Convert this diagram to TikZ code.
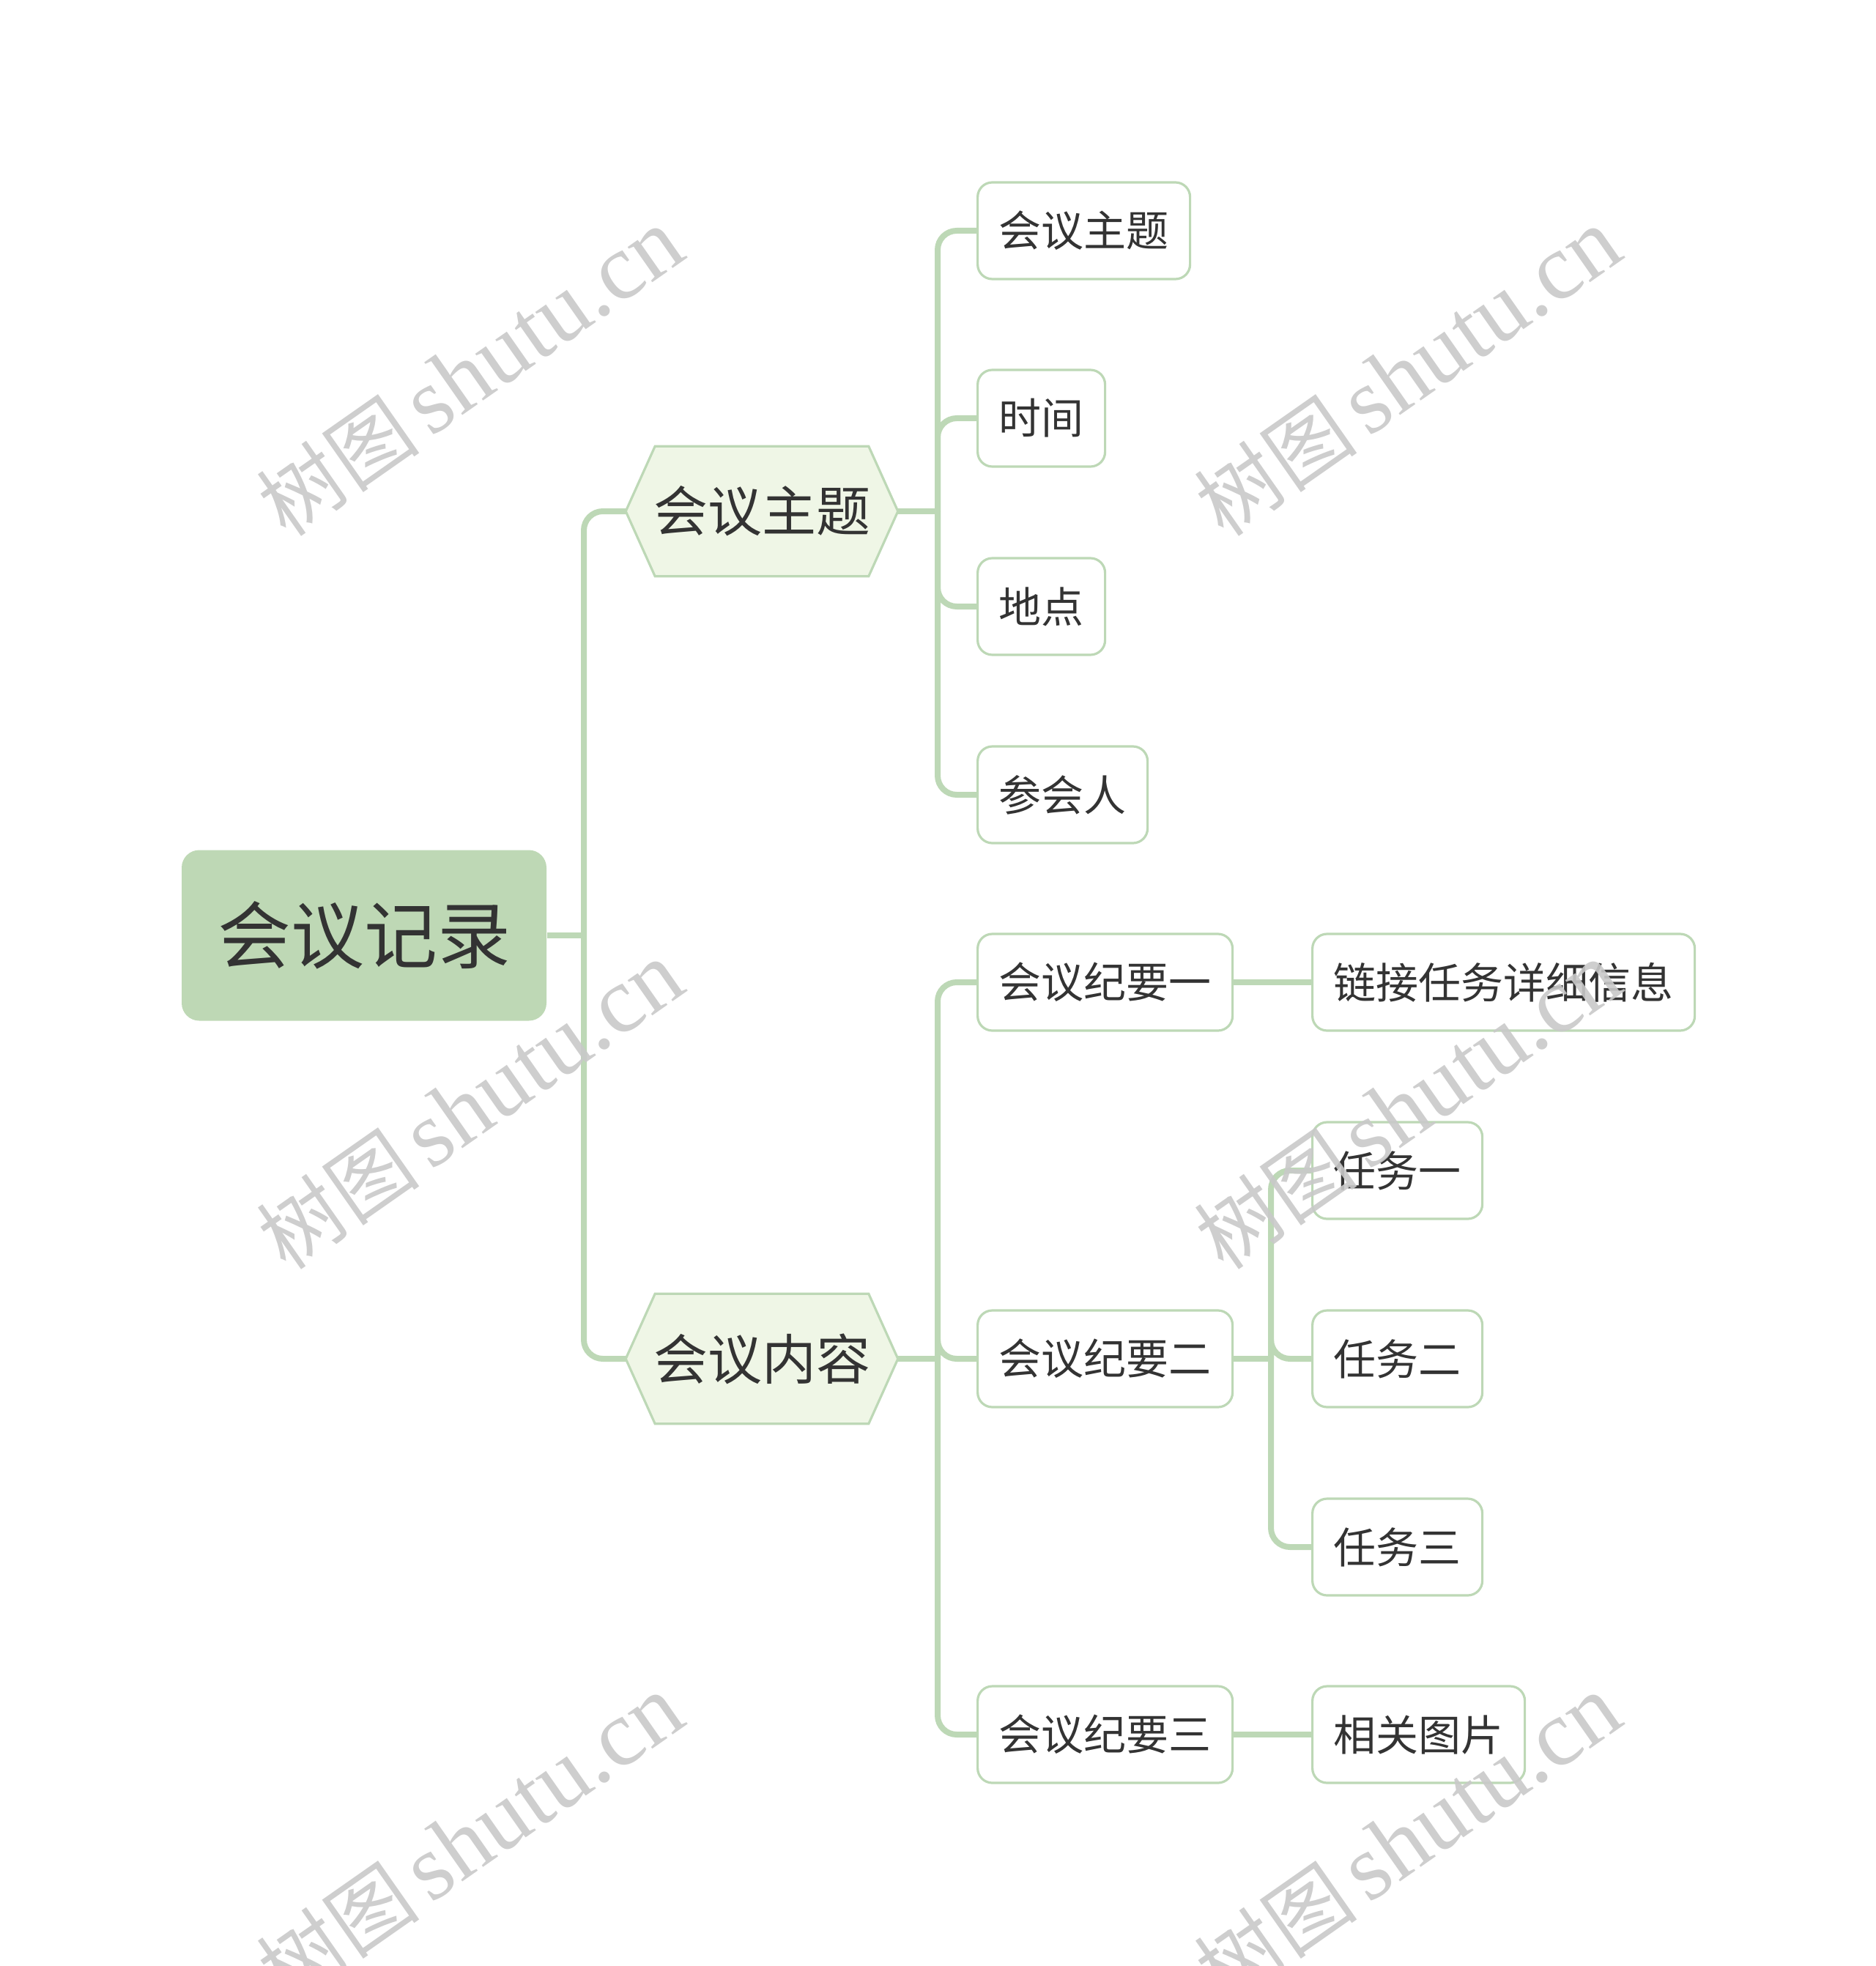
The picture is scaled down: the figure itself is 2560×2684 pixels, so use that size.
\documentclass[tikz,border=0pt]{standalone}
\usepackage{fontspec}
\setmainfont{Liberation Serif}
\newfontfamily\cjk{Noto Sans CJK SC}
\usetikzlibrary{calc,backgrounds}
\definecolor{rootgreen}{HTML}{BED8B5}
\definecolor{linkgreen}{HTML}{BDD8B6}
\definecolor{hexfill}{HTML}{EFF6E6}
\definecolor{txtgray}{HTML}{333333}
\definecolor{wmgray}{HTML}{C9C9C9}
\tikzset{
  conn/.style={draw=linkgreen, line width=2pt, rounded corners=6.5pt},
  rootbox/.style={fill=rootgreen, rounded corners=6pt, minimum width=124.5pt, minimum height=58.25pt,
    font=\cjk\fontsize{25}{25}\selectfont, text=txtgray},
  hexbox/.style={inner sep=0pt, minimum width=92.5pt, minimum height=44pt,
    font=\cjk\fontsize{18.5}{18.5}\selectfont, text=txtgray},
  hexline/.style={draw=linkgreen, fill=hexfill, line width=0.8pt},
  leafbox/.style={anchor=west, draw=linkgreen, line width=0.8pt, fill=white, rounded corners=5pt,
    minimum height=33pt, inner xsep=7.25pt, font=\cjk\fontsize{14.5}{14.5}\selectfont, text=txtgray},
  wmark/.style={rotate=35, text=wmgray, opacity=0.9, font=\fontsize{32}{32}\selectfont}
}
\begin{document}
\begin{tikzpicture}[x=0.25pt, y=-0.25pt]
  \useasboundingbox (0,0) rectangle (2560,2684);
  % root and main branches
  \node[rootbox] (root) at (497,1277) {会议记录};
  \node[hexbox] (topic) at (1040,698) {会议主题};
  \node[hexbox] (content) at (1040,1855) {会议内容};
  \coordinate (j1) at (797,1277);
  \coordinate (j2) at (1280,698);
  \coordinate (j3) at (1280,1855);
  % first branch
  \node[leafbox] (theme) at (1333,315) {会议主题};
  \node[leafbox] (time) at (1333,571) {时间};
  \node[leafbox] (place) at (1333,828) {地点};
  \node[leafbox] (people) at (1333,1085) {参会人};
  % second branch
  \node[leafbox] (sum1) at (1333,1341) {会议纪要一};
  \node[leafbox] (sum2) at (1333,1855) {会议纪要二};
  \node[leafbox] (sum3) at (1333,2368) {会议纪要三};
  \node[leafbox] (link) at (1790,1341) {链接任务详细信息};
  \node[leafbox] (task1) at (1790,1598) {任务一};
  \node[leafbox] (task2) at (1790,1855) {任务二};
  \node[leafbox] (task3) at (1790,2112) {任务三};
  \node[leafbox] (pics) at (1790,2368) {相关图片};
  \coordinate (j4) at (1735,1855);

  \begin{scope}[on background layer]
    \foreach \h in {topic,content}
      \filldraw[hexline] (\h.west) -- ($(\h.north west)+(10pt,0)$) -- ($(\h.north east)+(-10pt,0)$)
        -- (\h.east) -- ($(\h.south east)+(-10pt,0)$) -- ($(\h.south west)+(10pt,0)$) -- cycle;
    \draw[conn] (root.east) -- (j1);
    \draw[conn] (topic.west) -| (j1) |- (content.west);
    \draw[conn] (topic.east) -- (j2);
    \foreach \n in {theme,time,place,people}
      \draw[conn] (j2) |- (\n.west);
    \draw[conn] (content.east) -- (j3);
    \foreach \n in {sum1,sum2,sum3}
      \draw[conn] (j3) |- (\n.west);
    \draw[conn] (sum1.east) -- (link.west);
    \draw[conn] (sum2.east) -- (j4);
    \foreach \n in {task1,task2,task3}
      \draw[conn] (j4) |- (\n.west);
    \draw[conn] (sum3.east) -- (pics.west);
  \end{scope}

  % watermarks
  \foreach \wx/\wy [count=\i] in {642/508,642/1509,642/2510,1922/508,1922/1509,1922/2510}
    \node[wmark] (wm\i) at (\wx,\wy) {{\cjk\fontsize{28}{28}\selectfont 树图}\hspace{4pt}shutu.cn};
\end{tikzpicture}
\end{document}
